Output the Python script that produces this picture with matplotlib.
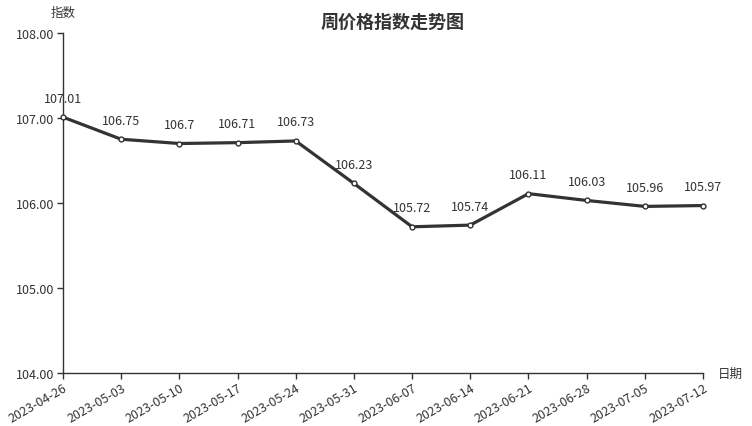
import matplotlib.pyplot as plt

plt.rcParams['font.family'] = ['Noto Sans CJK SC', 'DejaVu Sans']

dates = ['2023-04-26', '2023-05-03', '2023-05-10', '2023-05-17', '2023-05-24', '2023-05-31',
         '2023-06-07', '2023-06-14', '2023-06-21', '2023-06-28', '2023-07-05', '2023-07-12']
values = [107.01, 106.75, 106.7, 106.71, 106.73, 106.23,
          105.72, 105.74, 106.11, 106.03, 105.96, 105.97]
labels = ['107.01', '106.75', '106.7', '106.71', '106.73', '106.23',
          '105.72', '105.74', '106.11', '106.03', '105.96', '105.97']
yticks = [104, 105, 106, 107, 108]

fig = plt.figure(figsize=(7.52, 4.27), dpi=100)
ax = fig.add_axes([63 / 752, 1 - 374 / 427, 640 / 752, 340 / 427])

x = list(range(len(dates)))
ax.plot(x, values, color='#333333', linewidth=2.3, marker='o', markersize=3.5,
        markerfacecolor='white', markeredgecolor='#333333', markeredgewidth=1, zorder=3,
        clip_on=False)
for xi, v, lab in zip(x, values, labels):
    ax.annotate(lab, (xi, v), xytext=(0, 9), textcoords='offset points',
                ha='center', va='bottom', fontsize=9, color='#333333')

ax.set_xlim(0, len(dates) - 1)
ax.set_ylim(104, 108)
ax.set_xticks(x)
ax.set_xticklabels(dates, rotation=30, ha='right', rotation_mode='anchor', fontsize=9, color='#333333')
ax.set_yticks(yticks)
ax.set_yticklabels(['%.2f' % t for t in yticks], fontsize=9, color='#333333')
ax.tick_params(length=4, color='#333333', width=1, pad=2)

for s in ['top', 'right']:
    ax.spines[s].set_visible(False)
for s in ['left', 'bottom']:
    ax.spines[s].set_color('#333333')
    ax.spines[s].set_linewidth(1)

fig.text(393 / 752, 1 - 22 / 427, '周价格指数走势图', ha='center', va='center',
         fontsize=13, fontweight='bold', color='#333333')
fig.text(63 / 752, 1 - 13 / 427, '指数', ha='center', va='center', fontsize=9, color='#333333')
fig.text(730 / 752, 1 - 374 / 427, '日期', ha='center', va='center', fontsize=9, color='#333333')

fig.savefig('out.png', dpi=100)
